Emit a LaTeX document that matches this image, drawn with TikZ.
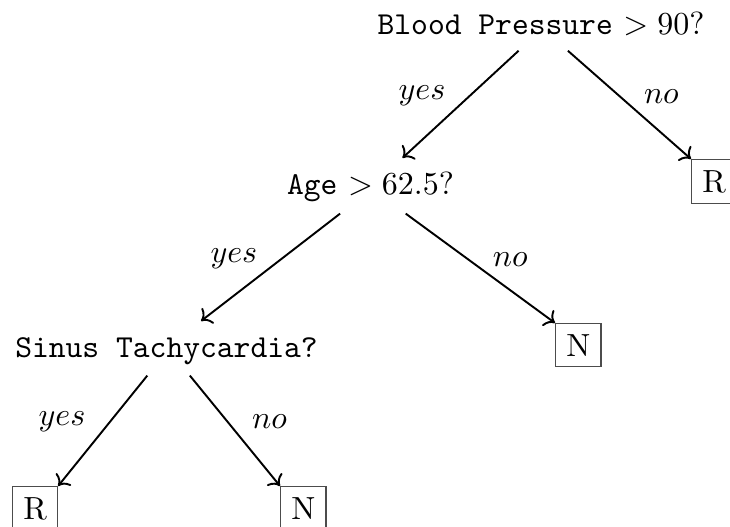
\documentclass[tikz,border=0pt]{standalone}
\usetikzlibrary{arrows.meta}

\begin{document}
\begin{tikzpicture}[x=0.3125pt,y=-0.3125pt,
  test/.style={anchor=base,inner sep=3.33pt},
  leaf/.style={draw=black!70,anchor=north west,inner sep=3.33pt},
  branch/.style={->,semithick},
  lbl/.style={pos=.42}
]
\useasboundingbox (0,0) rectangle (730,527);
\node[test] (bp) at (541,35) {\texttt{Blood Pressure} $>90$?};
\node[test] (age) at (370.5,195) {\texttt{Age} $>62.5$?};
\node[test] (sinus) at (166.5,357) {\texttt{Sinus Tachycardia?}};
\node[leaf] (rtop) at (691,159) {R};
\node[leaf] (nmid) at (555,323) {N};
\node[leaf] (rleft) at (12,486) {R};
\node[leaf] (nright) at (280,486) {N};
\draw[branch] ([xshift=-7pt,yshift=-1pt]bp.south) -- node[lbl,left=4pt] {$yes$}
  ([xshift=10pt,yshift=1pt]age.north);
\draw[branch] ([xshift=8.4pt,yshift=-1pt]bp.south) -- node[lbl,right=4pt] {$no$}
  (rtop.north west);
\draw[branch] ([xshift=-9.5pt]age.south) -- node[lbl,left=4pt] {$yes$}
  ([xshift=10.8pt,yshift=1.5pt]sinus.north);
\draw[branch] ([xshift=11pt]age.south) -- node[lbl,right=4pt] {$no$}
  (nmid.north west);
\draw[branch] ([xshift=-6pt]sinus.south) -- node[lbl,left=4pt] {$yes$}
  (rleft.north east);
\draw[branch] ([xshift=7.3pt]sinus.south) -- node[lbl,right=4pt] {$no$}
  (nright.north west);
\end{tikzpicture}
\end{document}
